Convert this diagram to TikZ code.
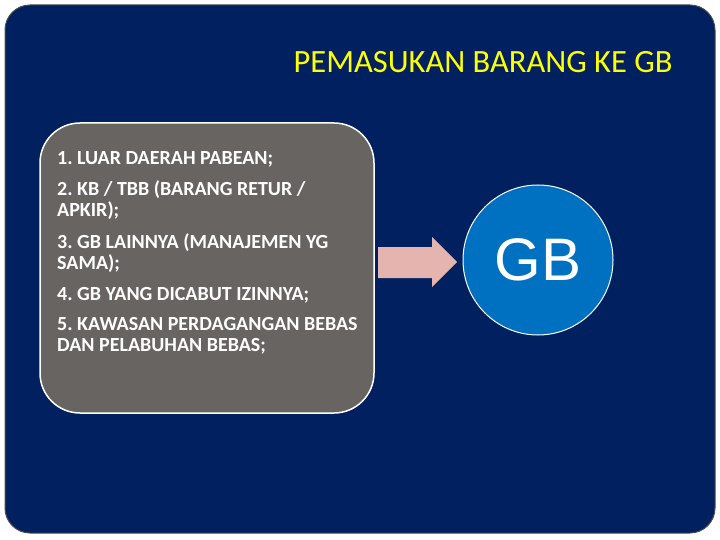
\documentclass[tikz,border=0pt]{standalone}
\usepackage{fontspec}
\setmainfont{Carlito}
\newfontfamily\arialfont{Liberation Sans}
\definecolor{navy}{HTML}{002060}
\definecolor{boxgray}{HTML}{686462}
\definecolor{arrowpink}{HTML}{E6B4AE}
\definecolor{gbblue}{HTML}{0070C0}
\definecolor{titleyellow}{HTML}{FFFF00}
\tikzset{
  itemtext/.style={anchor=base west, inner sep=0pt, text=white, align=left,
    font=\frenchspacing\fontsize{20}{21}\selectfont\bfseries},
}
\begin{document}
\begin{tikzpicture}[x=1pt,y=-1pt]
\useasboundingbox (0,0) rectangle (720,540);
\fill[white] (0,0) rectangle (720,540);
\node[draw=black!70, line width=1pt, fill=navy, rounded corners=25pt, minimum width=710pt, minimum height=528pt, inner sep=0pt] (frame) at (360,269) {};
\node[text=titleyellow, font=\frenchspacing\fontsize{32.5}{36}\selectfont, inner sep=0pt, anchor=base] (title) at (483,73) {PEMASUKAN BARANG KE GB};
\node[draw=white, line width=1.5pt, fill=boxgray, rounded corners=40pt, minimum width=334pt, minimum height=290pt, inner sep=0pt] (list) at (207,268) {};
\node[itemtext] (i1) at (57,164.5) {1. LUAR DAERAH PABEAN;};
\node[itemtext] (i2) at (57,216.5) {2. KB / TBB (BARANG RETUR /\\APKIR);};
\node[itemtext] (i3) at (57,269.5) {3. GB LAINNYA (MANAJEMEN YG\\SAMA);};
\node[itemtext] (i4) at (57,300.5) {4. GB YANG DICABUT IZINNYA;};
\node[itemtext] (i5) at (57,351.5) {5. KAWASAN PERDAGANGAN BEBAS\\DAN PELABUHAN BEBAS;};
\node[circle, draw=white, line width=1pt, fill=gbblue, minimum size=150pt, inner sep=0pt, text=white, font=\arialfont\fontsize{60}{60}\selectfont] (gb) at (538,260) {GB};
\fill[arrowpink] (378,247) -- (432,247) -- (432,237) -- (457,262) -- (432,287) -- (432,278) -- (378,278) -- cycle;
\end{tikzpicture}
\end{document}
